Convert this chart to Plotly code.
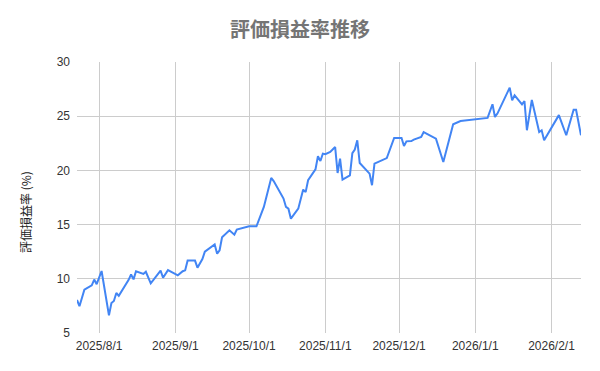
import plotly.graph_objects as go

dates = [
    "2025-07-23", "2025-07-24", "2025-07-26", "2025-07-29", "2025-07-30", "2025-07-31",
    "2025-08-02", "2025-08-05", "2025-08-06", "2025-08-07", "2025-08-08", "2025-08-09",
    "2025-08-13", "2025-08-14", "2025-08-15", "2025-08-16", "2025-08-19", "2025-08-20",
    "2025-08-22", "2025-08-26", "2025-08-27", "2025-08-29",
    "2025-09-02", "2025-09-04", "2025-09-05", "2025-09-06", "2025-09-09", "2025-09-10",
    "2025-09-12", "2025-09-13", "2025-09-17", "2025-09-18", "2025-09-19", "2025-09-20",
    "2025-09-23", "2025-09-25", "2025-09-26", "2025-09-29",
    "2025-10-01", "2025-10-04", "2025-10-07", "2025-10-10", "2025-10-11", "2025-10-15",
    "2025-10-16", "2025-10-17", "2025-10-18", "2025-10-21", "2025-10-23", "2025-10-24",
    "2025-10-25", "2025-10-28", "2025-10-29", "2025-10-30", "2025-10-31",
    "2025-11-01", "2025-11-03", "2025-11-05", "2025-11-06", "2025-11-07", "2025-11-08",
    "2025-11-11", "2025-11-12", "2025-11-13", "2025-11-14", "2025-11-15", "2025-11-18",
    "2025-11-19", "2025-11-20", "2025-11-21", "2025-11-26", "2025-11-29",
    "2025-12-02", "2025-12-03", "2025-12-04", "2025-12-06", "2025-12-07", "2025-12-10",
    "2025-12-11", "2025-12-16", "2025-12-19", "2025-12-23", "2025-12-26",
    "2026-01-06", "2026-01-08", "2026-01-09", "2026-01-10", "2026-01-15", "2026-01-16",
    "2026-01-17", "2026-01-20", "2026-01-21", "2026-01-22", "2026-01-24", "2026-01-27",
    "2026-01-28", "2026-01-29",
    "2026-02-04", "2026-02-07", "2026-02-10", "2026-02-11", "2026-02-13",
]

rates = [
    8.05, 7.47, 9.0, 9.4, 9.93, 9.5,
    10.72, 6.63, 7.77, 7.95, 8.69, 8.43,
    9.9, 10.4, 9.95, 10.7, 10.45, 10.65,
    9.58, 10.75, 10.1, 10.8,
    10.32, 10.7, 10.78, 11.68, 11.68, 11.03,
    11.82, 12.5, 13.17, 12.32, 12.63, 13.83,
    14.47, 14.07, 14.55, 14.69,
    14.84, 14.84, 16.63, 19.3, 19.02, 17.4,
    16.63, 16.47, 15.55, 16.47, 18.23, 18.0,
    19.09, 20.1, 21.3, 20.87, 21.55,
    21.5, 21.7, 22.16, 19.76, 21.09, 19.15,
    19.55, 21.6, 21.92, 22.78, 20.68, 19.94,
    19.7, 18.63, 20.63, 21.14, 22.99,
    22.99, 22.25, 22.68, 22.71, 22.84, 23.08,
    23.54, 22.93, 20.78, 24.26, 24.56,
    24.84, 26.1, 24.93, 25.24, 27.64, 26.47,
    26.93, 26.1, 26.4, 23.7, 26.5, 23.54,
    23.7, 22.78,
    25.1, 23.24, 25.6, 25.6, 23.24,
]

x_tick_vals = ["2025-08-01", "2025-09-01", "2025-10-01", "2025-11-01",
               "2025-12-01", "2026-01-01", "2026-02-01"]
x_tick_text = ["2025/8/1", "2025/9/1", "2025/10/1", "2025/11/1",
               "2025/12/1", "2026/1/1", "2026/2/1"]
y_tick_vals = [5, 10, 15, 20, 25, 30]

title_text = "評価損益率推移"
y_title_text = "評価損益率 (%)"

font_main = "Liberation Sans, Arial, Noto Sans CJK JP, sans-serif"
font_cjk = "Noto Sans CJK JP, sans-serif"

fig = go.Figure()
fig.add_trace(go.Scatter(
    x=dates, y=rates, mode="lines",
    line=dict(color="#4285F4", width=2),
    hoverinfo="x+y", showlegend=False,
))

W, H = 600, 371
L, R, T, B = 77, 19, 62, 38

fig.update_layout(
    width=W, height=H,
    margin=dict(l=L, r=R, t=T, b=B),
    paper_bgcolor="white", plot_bgcolor="white",
    title=dict(
        text=title_text, x=0.5, xanchor="center",
        y=1 - 30 / H, yanchor="middle", yref="container",
        font=dict(family=font_cjk, size=20, color="#757575", weight="bold"),
    ),
    xaxis=dict(
        type="date",
        range=["2025-07-23", "2026-02-13"],
        tickvals=x_tick_vals, ticktext=x_tick_text,
        showgrid=True, gridcolor="#cccccc", gridwidth=1,
        zeroline=False, showline=False, ticks="",
        ticklabelstandoff=4,
        tickfont=dict(family=font_main, size=12, color="#333333"),
    ),
    yaxis=dict(
        range=[5, 30],
        tickvals=y_tick_vals,
        showgrid=True, gridcolor="#cccccc", gridwidth=1,
        zeroline=False, showline=False, ticks="",
        ticklabelstandoff=6,
        tickfont=dict(family=font_main, size=12, color="#333333"),
    ),
    annotations=[dict(
        text=y_title_text, textangle=-90,
        xref="paper", yref="paper",
        x=(25 - L) / (W - L - R), y=(H - B - 212) / (H - T - B),
        xanchor="center", yanchor="middle", showarrow=False,
        font=dict(family=font_cjk, size=12, color="#222222"),
    )],
)

fig.write_html("out.html")
